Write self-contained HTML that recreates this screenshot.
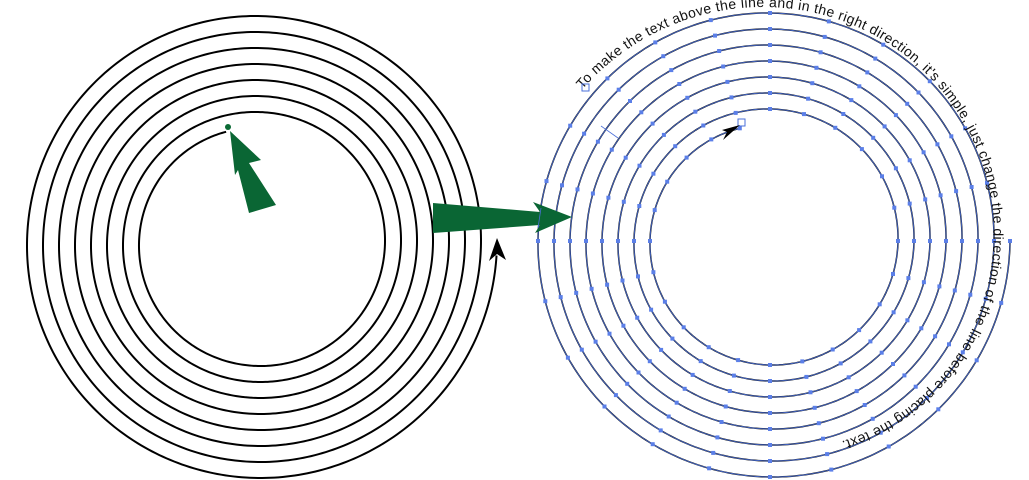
<!DOCTYPE html>
<html><head><meta charset="utf-8"><style>
html,body{margin:0;padding:0;background:#fff;}
svg{display:block;}
text{font-family:"Liberation Sans",sans-serif;font-size:14px;letter-spacing:0.4px;fill:#111;}
</style></head><body>
<svg id="s" width="1029" height="480" viewBox="0 0 1029 480" xmlns="http://www.w3.org/2000/svg">
<path id="L" fill="none" stroke="#000" stroke-width="2"/>
<path id="RB" fill="none" stroke="#000" stroke-width="1.5"/>
<path id="RBl" fill="none" stroke="#4a6fd8" stroke-width="0.8"/>
<path id="TP" fill="none" stroke="none"/>
<g id="dots" fill="#5b7fe8"></g>
<text><textPath href="#TP">To make the text above the line and in the right direction, it's simple, just change the direction of the line before placing the text.</textPath></text>
<circle cx="228" cy="127" r="3" fill="#0b6b35"/>
<polygon points="230,131 261,160 249,163 276,205 249,213 238,170 235,175" fill="#0a6634"/>
<polygon points="497,238 506,260 497,254 489,261" fill="#000"/>
<polygon points="433,203 540,212 533,202 572,217 535,233 540,225 433,233" fill="#0a6634"/>
<line x1="541" y1="208" x2="538" y2="228" stroke="#4a6fd8" stroke-width="0.8"/>
<rect x="582" y="84" width="7" height="7" fill="none" stroke="#4a6fd8" stroke-width="1"/>
<rect x="738" y="119" width="7" height="7" fill="none" stroke="#4a6fd8" stroke-width="1"/>
<line x1="601" y1="126" x2="618" y2="138" stroke="#4a6fd8" stroke-width="0.8"/>
<polygon points="740,125 722,130 727,132 723,140" fill="#000"/>
</svg>
<script>
function sp(cx,cy,th0,dir,r0,k,T,step){
  var d="";
  for(var t=0;t<=T;t+=step){
    var a=(th0+dir*t)*Math.PI/180, r=r0+k*t/360;
    d+=(t===0?"M":"L")+(cx+r*Math.cos(a)).toFixed(2)+" "+(cy+r*Math.sin(a)).toFixed(2);
  }
  var a=(th0+dir*T)*Math.PI/180, r=r0+k*T/360;
  d+="L"+(cx+r*Math.cos(a)).toFixed(2)+" "+(cy+r*Math.sin(a)).toFixed(2);
  return d;
}
document.getElementById("L").setAttribute("d",sp(258,243,254,-1,115.7,16,2771,1));
var rd=sp(770,241,0,1,240,-16,2775,1);
document.getElementById("RB").setAttribute("d",rd);
document.getElementById("RBl").setAttribute("d",rd);
var td="";
for(var th=219;th<=450;th+=1){
  var r=244-0.16*(th-219),a=th*Math.PI/180;
  td+=(th===219?"M":"L")+(772+r*Math.cos(a)).toFixed(2)+" "+(243+r*Math.sin(a)).toFixed(2);
}
document.getElementById("TP").setAttribute("d",td);
var g=document.getElementById("dots"),ns="http://www.w3.org/2000/svg";
for(var t=0;t<=2775;t+=15){
  var r=240-16*t/360,a=t*Math.PI/180;
  var x=770+r*Math.cos(a),y=241+r*Math.sin(a);
  var e=document.createElementNS(ns,"rect");
  e.setAttribute("x",(x-2).toFixed(1));e.setAttribute("y",(y-2).toFixed(1));
  e.setAttribute("width","4");e.setAttribute("height","4");
  g.appendChild(e);
}
</script>
</body></html>
